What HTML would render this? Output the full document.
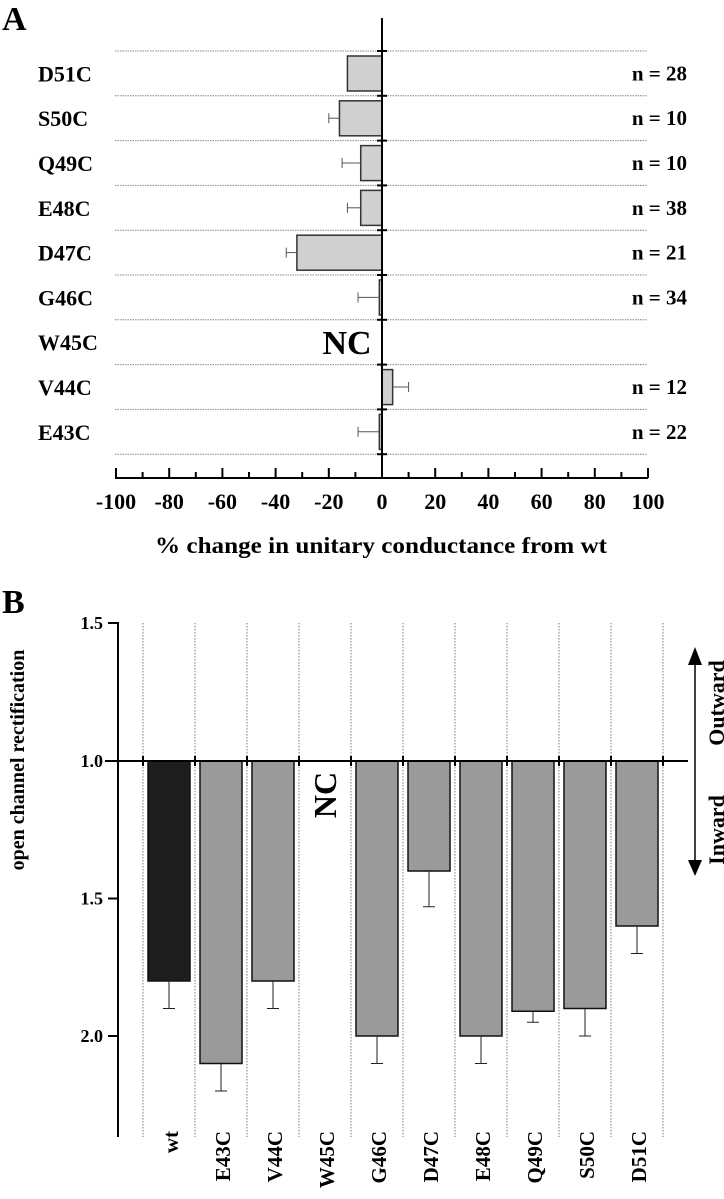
<!DOCTYPE html>
<html><head><meta charset="utf-8">
<style>
body{margin:0;background:#fff;}
svg{display:block;font-family:"Liberation Serif",serif;font-weight:bold;}
</style></head>
<body>
<svg width="724" height="1199" viewBox="0 0 724 1199">
<g id="chartA"></g>
<g id="chartB"></g>
</svg>
<script>
const NS="http://www.w3.org/2000/svg";
// Panel A data (top to bottom)
const aCats=["D51C","S50C","Q49C","E48C","D47C","G46C","W45C","V44C","E43C"];
const aVals=[-13,-16,-8,-8,-32,-1,null,4,-1];
const aErrs=[0,4,7,5,4,8,null,6,8];
const aNs=["n = 28","n = 10","n = 10","n = 38","n = 21","n = 34","","n = 12","n = 22"];
const aTicks=[-100,-80,-60,-40,-20,0,20,40,60,80,100];
// Panel B data
const bCats=["wt","E43C","V44C","W45C","G46C","D47C","E48C","Q49C","S50C","D51C"];
const bVals=[1.8,2.1,1.8,null,2.0,1.4,2.0,1.91,1.9,1.6];
const bErrs=[0.1,0.1,0.1,null,0.1,0.13,0.1,0.04,0.1,0.1];
const bTicks=[1.5,1.0,1.5,2.0];

function el(parent,tag,attrs,text){const e=document.createElementNS(NS,tag);for(const k in attrs)e.setAttribute(k,attrs[k]);if(text!==undefined)e.textContent=text;parent.appendChild(e);return e;}

// ---- Panel A ----
const A=document.getElementById('chartA');
const ax=v=>382+v*2.66;
const rowTop=i=>51+i*44.8;
el(A,'text',{x:2,y:30,'font-size':34},'A');
for(let i=0;i<=aCats.length;i++){
  const y=rowTop(i);
  const l=el(A,'line',{x1:115,x2:647,y1:y,y2:y,stroke:'#888','stroke-width':1,'stroke-dasharray':'1.5,1'});
  
  el(A,'line',{x1:377,x2:387,y1:y,y2:y,stroke:'#000','stroke-width':2});
}
aCats.forEach((c,i)=>{
  const yc=rowTop(i)+22.4;
  const t=el(A,'text',{x:38,y:yc+8,'font-size':22},c);
  
  if(aNs[i]){const n=el(A,'text',{x:687,y:yc+7,'font-size':21,'text-anchor':'end'},aNs[i]);
    }
  const v=aVals[i];
  if(v===null){const nc=el(A,'text',{x:347,y:yc+12,'font-size':34,'text-anchor':'middle'},'NC');
    return;}
  const x0=Math.min(ax(0),ax(v)),w=Math.abs(ax(v)-ax(0));
  const b=el(A,'rect',{x:x0,y:rowTop(i)+5,width:Math.max(w,1.5),height:35,fill:'#d0d0d0',stroke:'#333','stroke-width':1.5});
  
  if(aErrs[i]){const ev=v+(v<0?-aErrs[i]:aErrs[i]);
    const e=el(A,'line',{x1:ax(v),x2:ax(ev),y1:yc,y2:yc,stroke:'#555','stroke-width':1});
    
    el(A,'line',{x1:ax(ev),x2:ax(ev),y1:yc-5,y2:yc+5,stroke:'#555','stroke-width':1});}
});
el(A,'line',{x1:382,x2:382,y1:18,y2:479,stroke:'#000','stroke-width':2});
el(A,'line',{x1:115,x2:648,y1:478,y2:478,stroke:'#000','stroke-width':2});
for(let v=-100;v<=100;v+=10){const x=ax(v);el(A,'line',{x1:x,x2:x,y1:478,y2:(v%20===0?468:472),stroke:'#000','stroke-width':2});}
aTicks.forEach(v=>{const t=el(A,'text',{x:ax(v),y:509,'font-size':22,'text-anchor':'middle'},String(v));
  });
const xt=el(A,'text',{x:381,y:553,'font-size':23,'text-anchor':'middle',textLength:452,lengthAdjust:'spacingAndGlyphs'},'% change in unitary conductance from wt');


// ---- Panel B ----
const B=document.getElementById('chartB');
const by=v=>761+(v-1)*275;
const bx=i=>169+i*52;
el(B,'text',{x:2,y:613,'font-size':34},'B');
for(let i=0;i<=bCats.length;i++){const x=143+i*52;
  const l=el(B,'line',{x1:x,x2:x,y1:623,y2:1137,stroke:'#777','stroke-width':1,'stroke-dasharray':'1.5,1.5'});
  
  el(B,'line',{x1:x,x2:x,y1:756,y2:766,stroke:'#000','stroke-width':2});}
bCats.forEach((c,i)=>{
  const cx=bx(i),v=bVals[i];
  const t=el(B,'text',{transform:`translate(${cx+9},1131) rotate(-90)`,'font-size':21,'text-anchor':'end'},c);
  
  if(v===null){const nc=el(B,'text',{transform:`translate(${cx+11},795) rotate(-90)`,'font-size':32,'text-anchor':'middle'},'NC');
    return;}
  const b=el(B,'rect',{x:cx-21,y:by(1),width:42,height:by(v)-by(1),fill:i===0?'#1e1e1e':'#9a9a9a',stroke:'#111','stroke-width':1.5});
  
  const ev=v+bErrs[i];
  const e=el(B,'line',{x1:cx,x2:cx,y1:by(v),y2:by(ev),stroke:'#222','stroke-width':1});
  
  el(B,'line',{x1:cx-6,x2:cx+6,y1:by(ev),y2:by(ev),stroke:'#222','stroke-width':1});
});
el(B,'line',{x1:118,x2:118,y1:622,y2:1137,stroke:'#000','stroke-width':2});
el(B,'line',{x1:105,x2:688,y1:761,y2:761,stroke:'#000','stroke-width':2});
bTicks.forEach((v,k)=>{const y=k===0?623:by(v);
  el(B,'line',{x1:108,x2:118,y1:y,y2:y,stroke:'#000','stroke-width':2});
  const t=el(B,'text',{x:103,y:y+6,'font-size':18,'text-anchor':'end'},v.toFixed(1));
  });
const yt=el(B,'text',{transform:'translate(24,760) rotate(-90)','font-size':20,'text-anchor':'middle'},'open channel rectification');

el(B,'line',{x1:695,x2:695,y1:660,y2:865,stroke:'#000','stroke-width':1.5});
el(B,'polygon',{points:'688,665 702,665 695,647',fill:'#000'});
el(B,'polygon',{points:'688,860 702,860 695,876',fill:'#000'});
const o=el(B,'text',{transform:'translate(724,703) rotate(-90)','font-size':22,'text-anchor':'middle'},'Outward');

const inw=el(B,'text',{transform:'translate(724,830) rotate(-90)','font-size':22,'text-anchor':'middle'},'Inward');

</script>
</body></html>
